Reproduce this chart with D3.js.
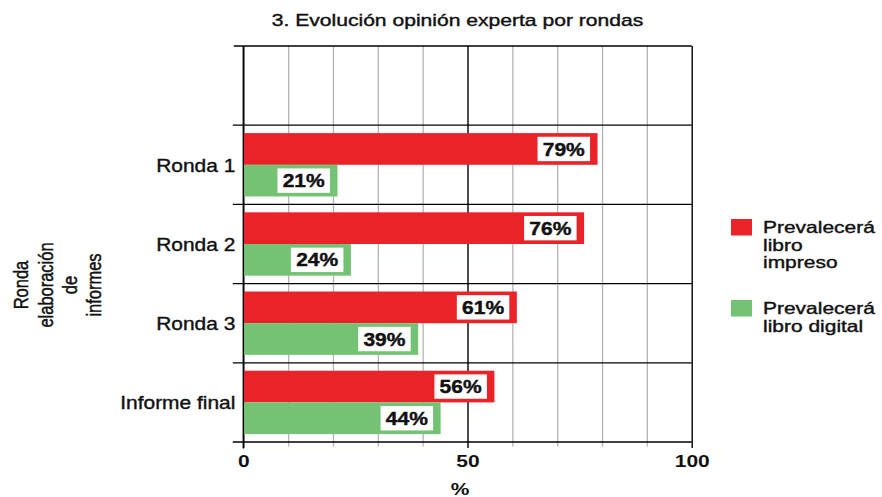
<!DOCTYPE html>
<html>
<head>
<meta charset="utf-8">
<script src="https://cdn.jsdelivr.net/npm/d3@7"></script>
<style>
  html, body { margin: 0; padding: 0; background: #fff; }
  svg { display: block; font-family: "Liberation Sans", Arial, Helvetica, sans-serif; }
  .heavy { stroke: #111; stroke-width: 0.4px; }
</style>
</head>
<body>
<svg id="chart" width="882" height="497"></svg>
<script>
// ---- data ----
const title = "3. Evolución opinión experta por rondas";
const categories = ["Ronda 1", "Ronda 2", "Ronda 3", "Informe final"];
const impreso = [79, 76, 61, 56];
const digital = [21, 24, 39, 44];
const seriesKeys = ["impreso", "digital"];
const legendLabels = [["Prevalecerá", "libro", "impreso"], ["Prevalecerá", "libro digital"]];
const gridTicks = [0, 10, 20, 30, 40, 50, 60, 70, 80, 90, 100];
const xTickLabels = [0, 50, 100];
const yTitleLines = ["Ronda", "elaboración", "de", "informes"];
const xTitle = "%";

const colors = { impreso: "#E92327", digital: "#74C374" };

const svg = d3.select("#chart");
const pLeft = 243.3, pRight = 691.7, pTop = 46, pBottom = 442;

const x = d3.scaleLinear().domain([0, 100]).range([pLeft, pRight]);
const y = d3.scaleBand().domain(["", ...categories]).range([pTop, pBottom]);
const ySub = d3.scaleBand().domain(seriesKeys).range([0, y.bandwidth()]).paddingInner(0).paddingOuter(0.25);

function stretch(sel, factor) {
  sel.each(function () {
    const w = this.getComputedTextLength();
    d3.select(this).attr("textLength", w * factor).attr("lengthAdjust", "spacingAndGlyphs");
  });
}

// title
svg.append("text")
  .attr("class", "heavy")
  .attr("x", 457.5).attr("y", 26)
  .attr("text-anchor", "middle")
  .attr("font-size", 17)
  .attr("fill", "#111")
  .text(title)
  .call(stretch, 1.24);

// vertical grid via axis
const gx = svg.append("g")
  .attr("transform", `translate(0,${pBottom + 6})`)
  .call(d3.axisBottom(x).tickValues(gridTicks).tickSize(-(pBottom + 6 - pTop)).tickFormat(""));
gx.select(".domain").remove();
gx.selectAll(".tick line")
  .attr("stroke", d => (d % 50 === 0 ? "#000" : "#b4b4b4"))
  .attr("stroke-width", d => (d % 50 === 0 ? 1.4 : 1.3));
gx.selectAll(".tick").filter(d => d % 50 !== 0).select("line")
  .attr("y1", -1.5);

// horizontal separators (band boundaries)
const bounds = [...y.domain().map(d => y(d)), pBottom];
svg.append("g").selectAll("line").data(bounds).join("line")
  .attr("x1", (d, i) => (i === 0 ? pLeft - 9.5 : pLeft - 10.5))
  .attr("x2", pRight)
  .attr("y1", d => d).attr("y2", d => d)
  .attr("stroke", "#000").attr("stroke-width", 1.3);

// bars
const rows = categories.map((c, i) => ({ cat: c, impreso: impreso[i], digital: digital[i] }));
const gBars = svg.append("g");
rows.forEach(r => {
  seriesKeys.forEach(k => {
    const by = y(r.cat) + ySub(k);
    const bh = ySub.bandwidth();
    const xe = x(r[k]);
    gBars.append("rect")
      .attr("x", x(0)).attr("y", by)
      .attr("width", xe - x(0)).attr("height", bh)
      .attr("fill", colors[k]);
    const bw = 52.5, bxh = 24.4;
    gBars.append("rect")
      .attr("x", xe - 7.5 - bw).attr("y", by + bh / 2 - bxh / 2)
      .attr("width", bw).attr("height", bxh)
      .attr("fill", "#fff");
    gBars.append("text")
      .attr("x", xe - 7.5 - bw / 2).attr("y", by + bh / 2 + 6.6)
      .attr("text-anchor", "middle")
      .attr("font-size", 17.5).attr("font-weight", "bold")
      .attr("fill", "#111").attr("stroke", "#111").attr("stroke-width", 0.4)
      .text(r[k] + "%")
      .call(stretch, 1.2);
  });
});

// zero line on top
svg.append("line")
  .attr("x1", x(0)).attr("x2", x(0))
  .attr("y1", pTop).attr("y2", pBottom + 6.5)
  .attr("stroke", "#000").attr("stroke-width", 1.4);

// y axis labels
const gy = svg.append("g")
  .attr("transform", `translate(${pLeft},0)`)
  .call(d3.axisLeft(y).tickSize(0).tickPadding(8));
gy.select(".domain").remove();
gy.selectAll(".tick text")
  .attr("class", "heavy")
  .attr("font-size", 18.5).attr("font-family", "Liberation Sans, Arial, sans-serif")
  .attr("fill", "#111")
  .attr("dy", "0.37em")
  .call(stretch, 1.13);

// x tick labels
const gxl = svg.append("g")
  .attr("transform", `translate(0,${pBottom})`)
  .call(d3.axisBottom(x).tickValues(xTickLabels).tickSize(0).tickPadding(0));
gxl.select(".domain").remove();
gxl.selectAll(".tick text")
  .attr("y", 24.7).attr("dy", 0)
  .attr("font-size", 16.5).attr("font-weight", "bold")
  .attr("font-family", "Liberation Sans, Arial, sans-serif")
  .attr("fill", "#111")
  .call(stretch, 1.27);

// x title
svg.append("text")
  .attr("x", 460).attr("y", 494.5)
  .attr("text-anchor", "middle")
  .attr("font-size", 16.5).attr("font-weight", "bold")
  .attr("fill", "#111")
  .text(xTitle)
  .call(stretch, 1.27);

// y title (rotated, stretched horizontally)
const yTitleX = [28, 53, 77, 101];
yTitleLines.forEach((t, i) => {
  svg.append("text")
    .attr("class", "heavy")
    .attr("transform", `translate(${yTitleX[i]},285) scale(1.25,1) rotate(-90)`)
    .attr("text-anchor", "middle")
    .attr("font-size", 16.5)
    .attr("fill", "#111")
    .text(t);
});

// legend
const legY = [219, 300];
const lg = svg.append("g");
seriesKeys.forEach((k, i) => {
  lg.append("rect")
    .attr("x", 731).attr("y", legY[i])
    .attr("width", 21).attr("height", 16.5)
    .attr("fill", colors[k]);
  legendLabels[i].forEach((line, j) => {
    lg.append("text")
      .attr("class", "heavy")
      .attr("x", 763).attr("y", legY[i] + 14.3 + j * 17.5)
      .attr("font-size", 16.5)
      .attr("fill", "#111")
      .text(line)
      .call(stretch, 1.27);
  });
});
</script>
</body>
</html>
